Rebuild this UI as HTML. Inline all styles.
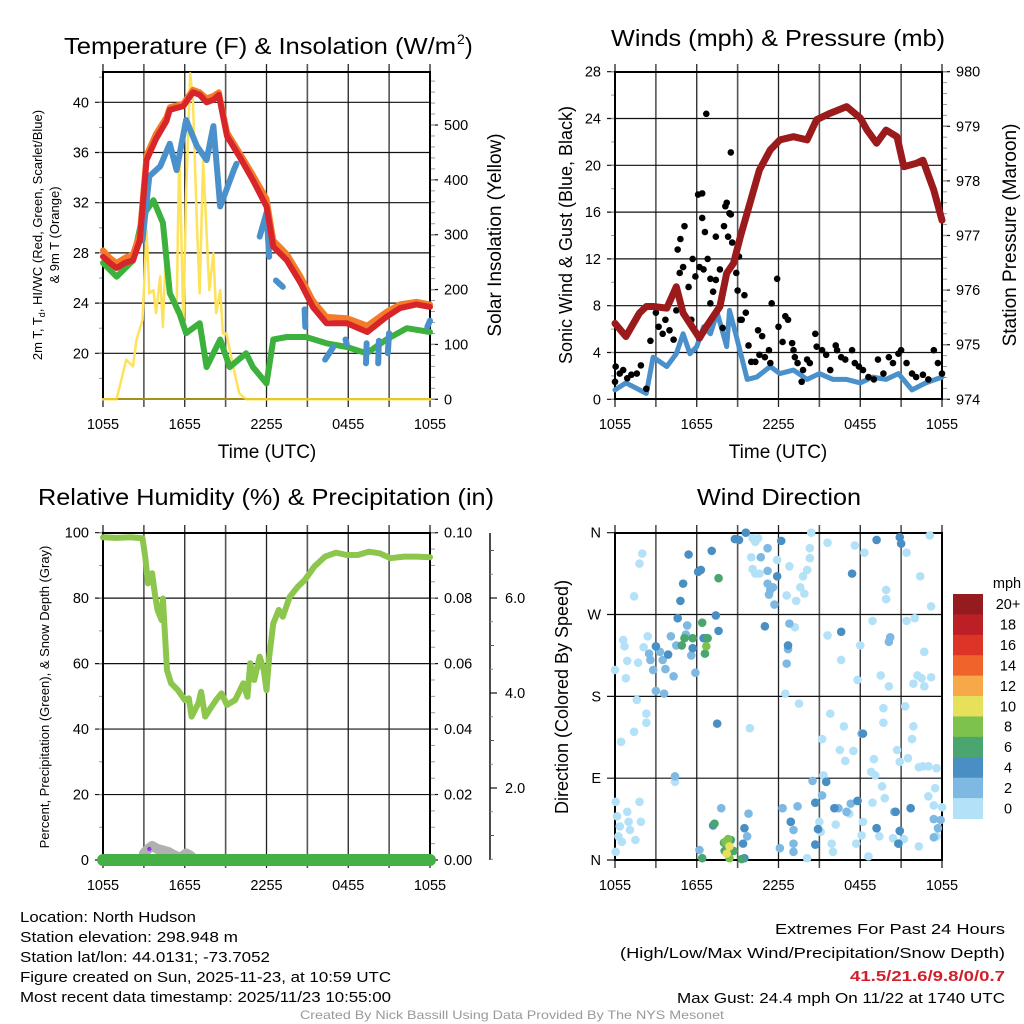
<!DOCTYPE html>
<html><head><meta charset="utf-8">
<style>
html,body{margin:0;padding:0;background:#fff;}
svg{display:block;font-family:"Liberation Sans",sans-serif;}
</style></head>
<body>
<svg id="fig" width="1024" height="1024" viewBox="0 0 1024 1024" xmlns="http://www.w3.org/2000/svg">
<rect width="1024" height="1024" fill="#fff"/>
<g id="layer"></g>
<text x="64" y="54" font-size="23" textLength="392" lengthAdjust="spacingAndGlyphs">Temperature (F) &amp; Insolation (W/m</text>
<text x="457" y="44" font-size="14">2</text>
<text x="465" y="54" font-size="23">)</text>
<text x="778" y="46" font-size="23" text-anchor="middle" textLength="334" lengthAdjust="spacingAndGlyphs">Winds (mph) &amp; Pressure (mb)</text>
<text x="266" y="505" font-size="23" text-anchor="middle" textLength="456" lengthAdjust="spacingAndGlyphs">Relative Humidity (%) &amp; Precipitation (in)</text>
<text x="779" y="505" font-size="23" text-anchor="middle" textLength="164" lengthAdjust="spacingAndGlyphs">Wind Direction</text>
<text x="267" y="458" font-size="19" text-anchor="middle">Time (UTC)</text>
<text x="778" y="458" font-size="19" text-anchor="middle">Time (UTC)</text>
<text transform="translate(42,235) rotate(-90)" font-size="13" text-anchor="middle">2m T, T<tspan font-size="9" dy="3">d</tspan><tspan dy="-3">, HI/WC (Red, Green, Scarlet/Blue)</tspan></text>
<text transform="translate(59,235) rotate(-90)" font-size="13" text-anchor="middle">&amp; 9m T (Orange)</text>
<text transform="translate(501,235) rotate(-90)" font-size="19" text-anchor="middle">Solar Insolation (Yellow)</text>
<text transform="translate(572,235) rotate(-90)" font-size="18" text-anchor="middle">Sonic Wind &amp; Gust (Blue, Black)</text>
<text transform="translate(1016,235) rotate(-90)" font-size="19" text-anchor="middle">Station Pressure (Maroon)</text>
<text transform="translate(49,697) rotate(-90)" font-size="13" text-anchor="middle">Percent, Precipitation (Green), &amp; Snow Depth (Gray)</text>
<text transform="translate(568,697) rotate(-90)" font-size="18" text-anchor="middle">Direction (Colored By Speed)</text>
<g font-size="15">
<text x="20" y="922" textLength="176" lengthAdjust="spacingAndGlyphs">Location: North Hudson</text>
<text x="20" y="942" textLength="218" lengthAdjust="spacingAndGlyphs">Station elevation: 298.948 m</text>
<text x="20" y="962" textLength="250" lengthAdjust="spacingAndGlyphs">Station lat/lon: 44.0131; -73.7052</text>
<text x="20" y="982" textLength="371" lengthAdjust="spacingAndGlyphs">Figure created on Sun, 2025-11-23, at 10:59 UTC</text>
<text x="20" y="1002" textLength="371" lengthAdjust="spacingAndGlyphs">Most recent data timestamp: 2025/11/23 10:55:00</text>
</g>
<g font-size="15" text-anchor="end">
<text x="1005" y="934" textLength="230" lengthAdjust="spacingAndGlyphs">Extremes For Past 24 Hours</text>
<text x="1005" y="958" textLength="385" lengthAdjust="spacingAndGlyphs">(High/Low/Max Wind/Precipitation/Snow Depth)</text>
<text x="1005" y="981" fill="#d0202a" font-weight="bold" textLength="155" lengthAdjust="spacingAndGlyphs">41.5/21.6/9.8/0/0.7</text>
<text x="1005" y="1003" textLength="328" lengthAdjust="spacingAndGlyphs">Max Gust: 24.4 mph On 11/22 at 1740 UTC</text>
</g>
<text x="512" y="1019" font-size="12" fill="#999" text-anchor="middle" textLength="424" lengthAdjust="spacingAndGlyphs">Created By Nick Bassill Using Data Provided By The NYS Mesonet</text>
</svg>
<script>
const xTickLabels = ["1055","1655","2255","0455","1055"];
const tempTicks = [20,24,28,32,36,40];
const insolTicks = [0,100,200,300,400,500];
const windTicks = [0,4,8,12,16,20,24,28];
const presTicks = [974,975,976,977,978,979,980];
const rhTicks = [0,20,40,60,80,100];
const precipTicks = ["0.00","0.02","0.04","0.06","0.08","0.10"];
const snowTicks = ["2.0","4.0","6.0"];
const dirLabels = ["N","E","S","W","N"];
const speedBins = ["0","2","4","6","8","10","12","14","16","18","20+"];
const speedColors = ["#b3e1f7","#7db9e3","#4a8fc4","#4aa66e","#7cc24c","#e7e05a","#f7a848","#f0632b","#dc3528","#bd1f27","#951b1f"];

const tempHours = [0,0.5,1,1.6,2.2,2.7,3.2,3.9,4.65,4.9,5.9,6.6,7.1,7.6,8.1,8.5,9.1,10,11,12,12.5,13.5,14.5,15.4,16.4,17.9,19.4,20.8,21.8,23,24];
const tempRed = [27.7,27.2,26.8,27.2,27.4,29,35.4,37.1,38.5,39.4,39.7,40.8,40.6,40.0,40.2,40.6,37.3,35.7,33.8,31.7,28.5,27.4,25.6,23.7,22.4,22.4,21.7,22.9,23.6,23.9,23.7];
const tempOrange = [28.2,27.6,27.2,27.6,27.9,29.5,35.8,37.5,38.8,39.6,39.9,41.0,40.8,40.3,40.5,40.8,37.6,36.0,34.2,32.3,29.0,27.9,26.1,24.2,22.9,22.8,22.2,23.3,23.9,24.1,23.9];
const dewHours = [0,1,2.2,2.9,3.7,4.4,4.9,5.6,6.1,7.1,7.6,8.6,9.3,10.5,11,12,12.5,13.5,14.9,16.4,17.9,19.35,20.8,22.3,24];
const dewGreen = [27.2,26.1,27.4,30.9,32.2,30.4,24.8,23.2,21.6,22.4,18.9,21.1,18.9,20,18.9,17.6,21.1,21.3,21.3,20.8,20.5,20,21.1,22,21.7];
const hiwcHours = [2.9,3.4,4.2,4.9,5.4,6.1,6.9,7.6,8.1,8.6,9.6,9.8,null,11.5,12,12.2,null,12.7,13.2,null,14.8,14.85,null,16.3,16.9,null,17.8,17.9,null,19.3,19.35,null,20.2,20.25,null,20.9,21.0,null,23.8,24];
const hiwcBlue = [29,34.1,34.9,36.7,34.6,38.6,36.5,35.4,38.1,31.7,34.6,35.1,null,29.3,31.2,27.7,null,25.8,25.3,null,23.5,22.1,null,19.5,20.5,null,21.1,20.7,null,19.2,20.8,null,19.2,21.0,null,20.0,21.6,null,22.1,22.6];
const insolHours = [0,1,1.7,2.2,2.45,2.9,3.2,3.4,3.7,3.9,4.2,4.4,4.65,4.9,5.4,5.6,5.9,6.1,6.4,6.6,6.9,7.1,7.35,7.6,7.8,8.1,8.3,8.6,8.8,9.06,9.55,10,10.5,24];
const insolYellow = [0,0,72,60,108,145,309,193,199,157,224,132,296,193,157,460,132,375,594,545,315,193,436,302,199,266,157,199,120,120,60,11,0,0];

const presHours = [0,0.8,1.8,2.3,2.8,3.8,4.5,5,6.2,6.7,7.7,8.2,8.7,9.2,9.9,10.6,11.4,12.1,13.1,14.1,14.8,15.8,17,18,18.5,19.2,19.9,20.7,21.2,22.1,22.6,23.4,24];
const presMaroon = [975.39,975.15,975.58,975.7,975.7,975.67,976.06,975.58,975.12,975.33,975.7,976.31,976.49,976.98,977.59,978.2,978.57,978.75,978.81,978.75,979.12,979.24,979.36,979.15,978.93,978.69,978.93,978.81,978.26,978.32,978.38,977.83,977.28];
const sonicHours = [0,0.8,1.8,2.3,2.8,3.8,4.5,5,5.5,6,6.5,7,7.5,8.2,8.4,8.9,9.7,10.4,11.4,12.1,13.1,14.1,15.0,16.0,17.0,18.0,18.9,19.9,20.8,21.8,22.8,24];
const sonicBlue = [0.8,1.4,0.8,0.5,3.6,2.8,3.9,5.6,3.9,4.5,6.2,5.6,7.4,4.5,7.6,5.4,1.7,1.9,2.8,2.2,2.5,1.7,2.2,1.7,1.7,1.4,1.9,1.7,2.2,0.8,1.4,1.9];
const gustHours = [0,0.05,0.35,0.6,0.9,1.2,1.6,1.9,2.3,2.6,3.0,3.2,3.5,3.7,4.0,4.3,4.5,4.6,4.8,5.0,5.1,4.75,5.4,5.7,5.9,5.6,6.1,6.4,6.4,6.6,6.7,6.8,6.2,6.5,7.0,7.2,7.4,7.0,7.4,7.7,7.9,8.0,8.1,8.2,8.3,8.4,8.5,8.5,8.6,8.9,9.1,9.0,9.3,9.5,9.6,9.2,9.8,10.0,10.3,10.5,10.6,10.8,11.0,11.3,11.5,11.9,11.4,12.0,12.3,12.5,12.7,13.0,13.1,13.2,13.4,13.7,13.8,14.1,14.3,14.7,14.8,15.2,15.5,15.8,16.2,16.3,16.6,16.9,17.4,17.6,17.9,18.2,18.6,19.0,19.3,19.7,20.1,20.4,20.8,21.0,21.4,21.8,22.1,22.6,23.0,23.4,23.7,24];
const gustBlack = [1.5,2.8,2.2,2.5,1.8,2.1,2.2,2.9,0.9,5.0,7.4,6.2,5.6,6.8,5.9,5.1,7.6,12.8,13.7,11.3,14.8,10.8,9.6,12.0,10.5,6.8,17.5,17.6,15.5,14.3,24.4,12.0,11.3,11.1,10.3,9.2,10.2,8.2,13.9,11.1,6.1,14.8,16.5,16.8,13.9,15.9,21.1,15.8,13.4,10.8,12.2,9.3,6.8,8.9,7.4,6.8,4.6,3.2,3.2,5.9,3.8,5.4,3.6,4.2,8.2,10.3,3.1,6.2,4.9,7.1,6.8,4.8,4.2,3.6,3.1,1.5,2.5,3.4,3.1,5.6,4.5,4.2,3.8,2.5,4.6,4.2,3.6,3.4,4.2,3.1,2.8,2.5,1.9,1.7,3.4,2.2,3.6,3.1,3.9,4.2,3.1,2.2,1.9,2.1,1.7,4.2,3.1,2.2];

const rhHours = [0,1,2,2.9,3.1,3.3,3.6,3.8,4.0,4.3,4.4,4.7,5.0,5.5,6.0,6.3,6.5,7.0,7.2,7.5,7.8,8.3,8.7,9.1,9.7,10.3,10.6,10.8,11.1,11.5,11.8,12.0,12.2,12.5,12.9,13.2,13.7,14.3,14.8,15.5,16.3,17.1,17.9,18.7,19.5,20.3,21.1,22.1,23.0,24];
const rhGreen = [98.6,98.4,98.6,98.3,92.7,84.5,87.6,81.5,76.4,73.3,79.9,58,54,51.9,48.9,49.4,43.8,47.9,51.4,43.8,45.8,48.9,50.9,47.4,48.9,54,49.9,60.1,55,62.1,58,51.9,62.1,72.3,76.4,74.3,80.4,83.5,85.5,89.6,92.7,93.9,93.2,93.2,94.2,93.7,92.2,92.7,92.7,92.5];
const snowHours = [3.0,3.3,3.6,4.0,4.4,4.8,5.2,5.6,5.8,6.1,6.4,6.6];
const snowGray = [0.15,0.3,0.4,0.3,0.25,0.2,0.1,0.02,0.05,0.15,0.08,0.0];

const dirCalm = [[0.05,64],[0.15,48],[0.35,37],[0.25,26],[0.5,20],[0.05,9],[0.9,53],[1.0,42],[1.1,33],[1.5,22],[1.8,64],[1.9,42],[0.45,130],[1.4,141],[1.6,176],[2.3,161],[2.3,151],[0,209],[0.8,200],[0.9,219],[1.7,217],[0.6,242],[0.7,235],[2.1,234],[2.4,246],[1.4,290],[1.8,326],[2.0,337],[4.4,86],[9.9,145],[10.1,354],[10.3,350],[10.0,333],[10.3,315],[10.6,315],[10.5,354],[12.5,183],[13.5,172],[12.6,291],[13.3,285],[13.9,293],[13.8,312],[14.1,319],[14.3,332],[14.3,343],[14.4,360],[15.6,349],[17.6,346],[18.3,338],[21.4,338],[22.4,312],[23.1,357],[23.2,279],[12.3,57],[14.1,2],[14.7,63],[15.0,42],[15.1,31],[15.3,93],[16.0,9],[15.9,18],[16.2,39],[17.0,53],[17.2,51],[17.7,18],[18.1,27],[18.2,42],[18.6,4],[18.9,63],[19.4,26],[19.6,81],[19.8,68],[20.4,24],[21.2,23],[21.7,57],[22.3,15],[23.0,70],[23.4,60],[23.5,79],[23.6,26],[24,58],[15.2,133],[15.8,161],[16.5,121],[16.8,147],[16.9,109],[17.5,120],[17.8,198],[18.0,236],[18.9,263],[19.0,111],[18.8,97],[19.1,93],[19.5,203],[19.7,167],[19.7,151],[19.9,297],[19.9,287],[20.1,191],[20.7,121],[20.9,108],[21.3,169],[21.5,112],[21.8,133],[21.9,147],[21.9,194],[22.2,203],[22.5,200],[22.7,191],[23.2,201],[22.7,229],[21.4,263],[22.0,266],[22.6,103],[23.0,103],[23.6,101],[22.3,102],[15.6,247],[16.6,220],[13.2,256],[13.6,300],[11.9,330],[12.8,323],[10.1,320]];
const dirLight = [[2.5,227],[2.6,220],[2.8,209],[3.0,186],[3.6,183],[3.3,229],[3.5,220],[3.7,210],[4.1,246],[4.3,202],[4.5,236],[5.2,248],[5.3,258],[5.6,225],[5.9,206],[6.2,11],[4.4,92],[9.7,26],[10.7,333],[11.2,343],[11.2,304],[11.4,297],[11.6,300],[11.7,281],[12.6,216],[12.7,232],[12.8,260],[11.2,318],[12.1,13],[12.3,57],[12.9,42],[13.1,33],[13.1,18],[13.1,9],[13.4,59],[14.5,87],[14.7,17],[15.2,71],[15.5,86],[16.4,57],[17.0,53],[17.3,62],[17.8,65],[19.2,35],[20.5,53],[20.8,18],[20.9,32],[23.4,45],[23.7,35],[23.9,44],[18.1,139],[20.2,245],[20.1,240],[23.4,25],[7.8,57],[9.8,51],[11.3,292]];
const dirModerate = [[3.0,235],[3.9,226],[4.6,266],[4.8,285],[5.0,304],[5.4,336],[6.1,317],[6.3,319],[7.1,340],[7.4,269],[7.6,252],[6.5,244],[8.8,353],[9.1,352],[9.6,360],[9.5,35],[9.4,18],[9.5,2],[7.2,38],[11.9,312],[11.0,257],[12.2,351],[12.7,236],[16.6,251],[17.4,315],[19.2,352],[20.9,355],[21.0,348],[15.5,86],[14.9,34],[14.7,17],[16.1,57],[17.8,65],[18.2,139],[19.2,35],[20.6,53],[20.9,32],[20.8,18],[21.7,57],[12.9,42],[14.7,63],[7.5,150],[6.7,244],[5.7,233]];
const dirGreen = [[6.4,261],[5.1,244],[5.7,244],[4.9,236],[6.6,227],[6.8,244],[7.6,310],[7.3,40],[6.4,2],[8.0,19],[8.5,22],[8.7,10],[9.3,1],[8.05,10]];
const dirLime = [[6.7,235],[8.1,20],[8.4,2],[8.3,23]];
const dirYellow = [[8.4,15],[8.2,7]];

const NS = "http://www.w3.org/2000/svg";
const layer = document.getElementById("layer");
function mk(tag, attrs, parent){
  const e = document.createElementNS(NS, tag);
  for (const k in attrs) e.setAttribute(k, attrs[k]);
  (parent||layer).appendChild(e);
  return e;
}
function panel(x0,x1,y0,y1){ return {x0,x1,y0,y1, x:h=>x0+h/24*(x1-x0)}; }
function linear(d0,d1,r0,r1){ return v=>r0+(v-d0)/(d1-d0)*(r1-r0); }
function pathFrom(hours, vals, xf, yf){
  let d="", pen=false;
  for (let i=0;i<hours.length;i++){
    if (hours[i]===null || vals[i]===null){ pen=false; continue; }
    d += (pen?"L":"M") + xf(hours[i]).toFixed(1) + "," + yf(vals[i]).toFixed(1);
    pen=true;
  }
  return d;
}
function frame(p, name){
  const g = mk("g",{});
  
  
  for (let i=0;i<=8;i++){
    const x = p.x0 + i*(p.x1-p.x0)/8;
    const l = mk("line",{x1:x,x2:x,y1:p.y0-8,y2:p.y1+8,stroke:i%2?"#555":"#222","stroke-width":i%2?1.6:1.3},g);
    
    
  }
  xTickLabels.forEach((t,i)=>{
    const tx = mk("text",{x:p.x0+i*(p.x1-p.x0)/4,y:p.y1+30,"font-size":14.5,"text-anchor":"middle"},g);
    tx.textContent=t;
    
    
  });
  return g;
}
function hgrid(p, ticks, yf, labels, g, minorStep, lo, hi){
  ticks.forEach((v,i)=>{
    const y=yf(v);
    const l = mk("line",{x1:p.x0-8,x2:p.x1,y1:y,y2:y,stroke:"#111","stroke-width":1.2},g);
    
    
    const t = mk("text",{x:p.x0-14,y:y+5,"font-size":14.5,"text-anchor":"end"},g);
    t.textContent = labels ? labels[i] : v;
    
    
  });
  if (minorStep) for (let v=lo; v<=hi+1e-9; v+=minorStep){
    const y=yf(v); if (y<p.y0-0.5||y>p.y1+0.5) continue;
    mk("line",{x1:p.x0-4,x2:p.x0,y1:y,y2:y,stroke:"#999","stroke-width":1},g);
  }
}
function rightAxis(p, ticks, yf, labels, g, minorStep, lo, hi){
  ticks.forEach((v,i)=>{
    const y=yf(v);
    mk("line",{x1:p.x1,x2:p.x1+8,y1:y,y2:y,stroke:"#111","stroke-width":1.2},g);
    const t = mk("text",{x:p.x1+14,y:y+5,"font-size":14.5},g);
    t.textContent = labels ? labels[i] : v;
    
    
  });
  if (minorStep) for (let v=lo; v<=hi+1e-9; v+=minorStep){
    const y=yf(v); if (y<p.y0-0.5||y>p.y1+0.5) continue;
    mk("line",{x1:p.x1,x2:p.x1+5,y1:y,y2:y,stroke:"#999","stroke-width":1},g);
  }
}
function box(p,g){
  mk("rect",{x:p.x0,y:p.y0,width:p.x1-p.x0,height:p.y1-p.y0,fill:"none",stroke:"#000","stroke-width":2},g);
}
function line(hours, vals, xf, yf, color, w, name){
  const e = mk("path",{d:pathFrom(hours,vals,xf,yf),fill:"none",stroke:color,"stroke-width":w,"stroke-linejoin":"round","stroke-linecap":"round"});
  
  
  return e;
}

const P1 = panel(103,430,72,399);
const yT = linear(20,40,353.3,102.3);
const yI = linear(0,500,399.3,125);
let g1 = frame(P1,'temperature');
hgrid(P1,tempTicks,yT,null,g1,2,18,42);
rightAxis(P1,insolTicks,yI,null,g1,20,0,580);
line(insolHours,insolYellow,P1.x,yI,"#fde25a",2.5,'insolation-line');
line(dewHours,dewGreen,P1.x,yT,"#3db13d",6,'dewpoint-line');
line(hiwcHours,hiwcBlue,P1.x,yT,"#4a91cc",6,'heat-index-wind-chill-line');
line(tempHours,tempOrange,P1.x,yT,"#f47b2a",6,'9m-temperature-line');
line(tempHours,tempRed,P1.x,yT,"#d7252a",6,'2m-temperature-line');
box(P1,g1);
mk("line",{x1:P1.x0,x2:P1.x1,y1:P1.y1,y2:P1.y1,stroke:"#e0c020","stroke-width":1.5});

const P2 = panel(615,942,72,399);
const yW = linear(0,28,399.3,71.7);
const yP = linear(974,980,399.3,71.7);
let g2 = frame(P2,'winds');
hgrid(P2,windTicks,yW,null,g2,2,0,28);
rightAxis(P2,presTicks,yP,null,g2,0.2,974,980);
line(sonicHours,sonicBlue,P2.x,yW,"#4a91cc",5,'sonic-wind-line');
gustHours.forEach((h,i)=>{
  const c = mk("circle",{cx:P2.x(h),cy:yW(gustBlack[i]),r:3.3,fill:"#000"});
  
  
});
line(presHours,presMaroon,P2.x,yP,"#9b1a1c",7,'pressure-line');
box(P2,g2);

const P3 = panel(103,430,533,860);
const yR = linear(0,100,860,532.7);
const yS = linear(0,2,883,788);
let g3 = frame(P3,'humidity');
hgrid(P3,rhTicks,yR,null,g3,10,0,100);
rightAxis(P3,[0,20,40,60,80,100],yR,precipTicks,g3,5,0,100);
line(snowHours,snowGray.map(v=>v*30),P3.x,v=>858-v,"#b0b0b0",10,'snow-depth-line');
const pr = mk("rect",{x:P3.x0-6,y:854,width:P3.x1-P3.x0+12,height:12,rx:6,fill:"#45b045"});


mk("circle",{cx:P3.x(3.4),cy:849,r:2.2,fill:"#9933ee"});
line(rhHours,rhGreen,P3.x,yR,"#8cc64d",6,'relative-humidity-line');
box(P3,g3);
const gs = mk("g",{});


mk("line",{x1:490,x2:490,y1:533,y2:860,stroke:"#111","stroke-width":1.5},gs);
snowTicks.forEach(t=>{
  const y=yS(parseFloat(t));
  mk("line",{x1:490,x2:497,y1:y,y2:y,stroke:"#111","stroke-width":1.2},gs);
  const tx=mk("text",{x:505,y:y+5,"font-size":14.5},gs); tx.textContent=t;
  
  
});
for (let v=1; v<=7; v+=2){ const y=yS(v); if(y<533) continue; mk("line",{x1:490,x2:494,y1:y,y2:y,stroke:"#555"},gs); }
for (let v=0.5; v<=7; v+=1){ const y=yS(v); if(y<533||y>860) continue; mk("line",{x1:490,x2:493,y1:y,y2:y,stroke:"#888"},gs); }

const P4 = panel(615,942,533,860);
const yD = linear(0,360,860,532.7);
let g4 = frame(P4,'wind-direction');
hgrid(P4,[0,90,180,270,360],yD,dirLabels,g4,0,0,0);
const groups = [[dirCalm,0],[dirLight,1],[dirModerate,2],[dirGreen,3],[dirLime,4],[dirYellow,5]];
groups.forEach(([arr,ci])=>{
  arr.forEach(([h,d])=>{
    const c = mk("circle",{cx:P4.x(h),cy:yD(d),r:4.3,fill:speedColors[ci]});
    
    
  });
});
box(P4,g4);
const gc = mk("g",{});


const cbTop=594, cbH=(818.5-594)/speedBins.length;
const cbT = mk("text",{x:1007,y:588,"font-size":14.5,"text-anchor":"middle"},gc); cbT.textContent="mph";


speedBins.forEach((lab,i)=>{
  const k = speedBins.length-1-i;
  mk("rect",{x:953,y:cbTop+i*cbH,width:30,height:cbH+0.5,fill:speedColors[k]},gc);
  const t = mk("text",{x:1008,y:cbTop+i*cbH+cbH/2+5,"font-size":14.5,"text-anchor":"middle"},gc);
  t.textContent = speedBins[k];
  
  
});
</script>
</body></html>
